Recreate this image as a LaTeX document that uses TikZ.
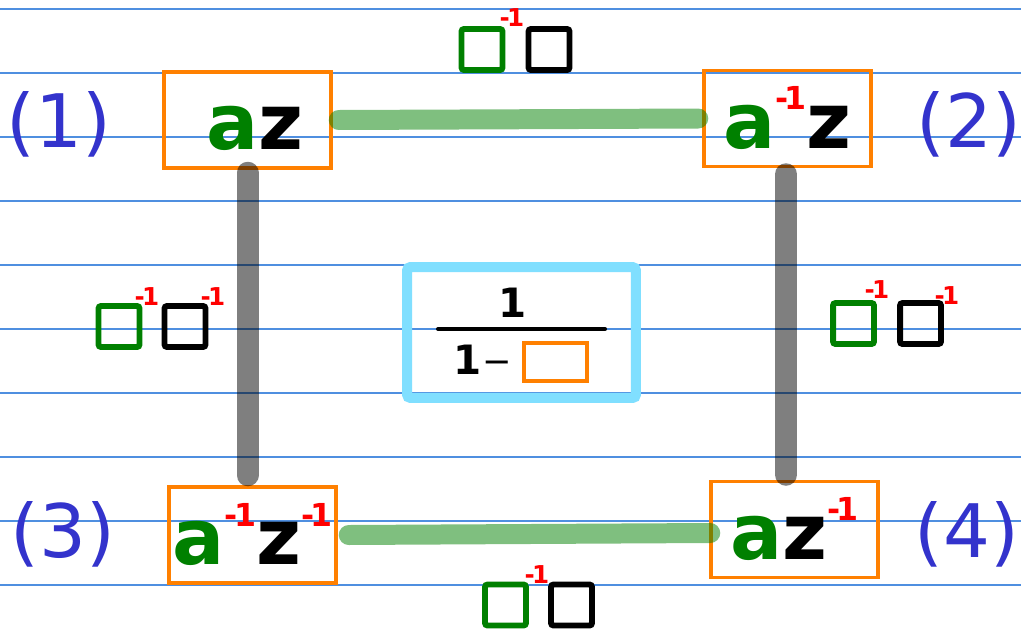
\documentclass[tikz,border=0pt]{standalone}
\usepackage{fontspec}
\setmainfont{DejaVu Sans}
\usetikzlibrary{calc}
\definecolor{cgreen}{HTML}{008000}
\definecolor{corange}{HTML}{FF8000}
\definecolor{cred}{HTML}{FF0000}
\definecolor{clabel}{HTML}{3333CC}
\definecolor{ccyan}{HTML}{80DFFF}
\definecolor{crule}{HTML}{4F8FE0}
\newcommand{\lettera}{\textcolor{cgreen}{a}}
\newcommand{\letterz}{\textcolor{black}{z}}
\newcommand{\minv}{\raisebox{22pt}{\textcolor{cred}{\fontsize{18}{18}\selectfont -\kern-2pt 1}}}
\newcommand{\sinv}{\textcolor{cred}{\fontsize{14}{14}\selectfont\bfseries -\kern-1.5pt 1}}

\begin{document}
\begin{tikzpicture}[x=0.02cm, y=-0.02cm,
  term/.style={draw=corange, line width=2pt, minimum width=3.34cm,
               minimum height=1.92cm, inner sep=0pt,
               font=\fontsize{44}{44}\selectfont\bfseries,
               text height=36pt, text depth=2pt},
  tag/.style={text=clabel, font=\fontsize{42}{42}\selectfont, inner sep=0pt},
  sq/.style={draw, line width=3.4pt, minimum size=0.82cm, inner sep=0pt,
             rounded corners=1.5pt},
  sup/.style={inner sep=0pt},
  hbar/.style={cgreen, opacity=0.5, line width=0.4cm, line cap=round},
  vbar/.style={black, opacity=0.5, line width=0.44cm, line cap=round},
  ink/.style={font=\fontsize{23}{23}\selectfont\bfseries, inner sep=0pt},
]
% ruled paper
\fill[white] (0,0) rectangle (1021,629);
\useasboundingbox (0,0) rectangle (1021,629);
\foreach \r in {0,...,9}
  \draw[crule, line width=0.7pt] (0,9+64*\r) -- (1021,9+64*\r);

% corner terms
\node[term] (n1) at (247.5,120) {\hspace*{0.3cm}\lettera\letterz};
\node[term] (n2) at (787.5,118.5) {\lettera\minv\letterz};
\node[term] (n3) at (252.5,535) {\lettera\minv\letterz\minv};
\node[term] (n4) at (794.5,529.5) {\lettera\letterz\minv};

\node[tag] (l1) at (59,124) {(1)};
\node[tag] (l2) at (969,124) {(2)};
\node[tag] (l3) at (63,534) {(3)};
\node[tag] (l4) at (967,534) {(4)};

% connectors
\coordinate (lb) at (n1.south |- n3.north);
\coordinate (rb) at (n2.south |- n4.north);
\draw[hbar] ([xshift=0.12cm]n1.east) -- ([xshift=-0.08cm]n2.west);
\draw[hbar] ([xshift=0.22cm]n3.east) -- ([xshift=0.02cm,yshift=-0.07cm]n4.west);
\draw[vbar] ([yshift=-0.06cm]n1.south) -- ([yshift=0.2cm]lb);
\draw[vbar] ([xshift=-0.03cm,yshift=-0.12cm]n2.south) -- ([xshift=-0.03cm,yshift=0.1cm]rb);

% edge labels
\node[sq, draw=cgreen] (tg) at (482,49.5) {};
\node[sq] (tk) at (549,49.5) {};
\node[sup] (ti) at (512,18) {\sinv};

\node[sq, draw=cgreen] (lg) at (119,326.5) {};
\node[sq] (lk) at (185,326.5) {};
\node[sup] (li1) at (147,297) {\sinv};
\node[sup] (li2) at (213,297) {\sinv};

\node[sq, draw=cgreen] (rg) at (853.5,323.5) {};
\node[sq] (rk) at (920.5,323.5) {};
\node[sup] (ri1) at (877,290) {\sinv};
\node[sup] (ri2) at (947,296) {\sinv};

\node[sq, draw=cgreen] (bg) at (505.5,605) {};
\node[sq] (bk) at (571.5,605) {};
\node[sup] (bi) at (537,575) {\sinv};

% centre fraction
\node[draw=ccyan, line width=0.2cm, minimum width=4.58cm, minimum height=2.62cm,
      rounded corners=2pt] (kern) at (521.5,332.5) {};
\node[ink] (num) at (513,303) {1};
\coordinate (barL) at (438,329);
\coordinate (barR) at (605,329);
\draw[line width=2.3pt, line cap=round] (barL) -- (barR);
\node[ink] (one) at (468,360) {1};
\node[ink, font=\fontsize{20}{20}\selectfont] (minus) at (497,367) {−};
\node[draw=corange, line width=2.3pt, minimum width=1.26cm, minimum height=0.76cm,
      inner sep=0pt] (hole) at (555.5,362) {};
\end{tikzpicture}
\end{document}
